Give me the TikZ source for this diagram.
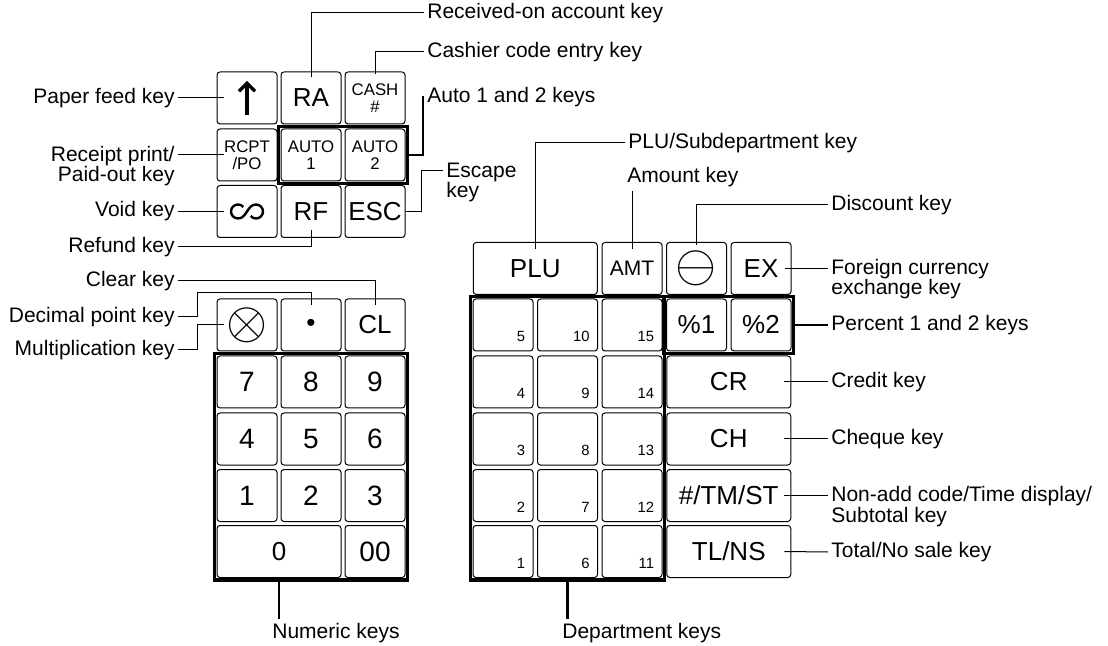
\documentclass[tikz,border=0pt]{standalone}
\usepackage{fontspec}
\setmainfont{Liberation Sans}
\usetikzlibrary{arrows.meta, fit}

\begin{document}
\begin{tikzpicture}[x=0.5pt, y=-0.5pt,
    key/.style={draw, line width=0.5pt, rounded corners=1.5pt, minimum width=30pt, minimum height=26pt, inner sep=0pt, font=\fontsize{13}{13}\selectfont},
    nkey/.style={key, font=\fontsize{14}{14}\selectfont},
    wkey/.style={key, minimum width=62pt},
    skey/.style={key, align=center, font=\fontsize{8.4}{8.6}\selectfont},
    dkey/.style={key, text width=22pt, align=right, inner xsep=4pt, text height=21.5pt, text depth=4.5pt, font=\fontsize{7.4}{8}\selectfont},
    group/.style={draw, line width=1.6pt, inner sep=1pt},
    lbl/.style={inner sep=1.5pt, font=\fontsize{10.5}{10.3}\selectfont},
    conn/.style={line width=0.5pt},
    tconn/.style={line width=1.3pt}]
    \useasboundingbox (0, 0) rectangle (1108, 646);

    % upper left keys
    \node[key] at (247, 98)    (k_feed) {};
    \node[key] at (311, 98)    (k_ra) {RA};
    \node[skey] at (375, 98)   (k_cash) {CASH\\\#};
    \node[skey] at (247, 155)  (k_rcpt) {RCPT\\/PO};
    \node[skey] at (311, 155)  (k_auto1) {AUTO\\1};
    \node[skey] at (375, 155)  (k_auto2) {AUTO\\2};
    \node[key] at (247, 211.5) (k_void) {};
    \node[key] at (311, 211.5) (k_rf) {RF};
    \node[key] at (375, 211.5) (k_esc) {ESC};
    \node[group, fit=(k_auto1)(k_auto2)] (g_auto) {};

    \draw[line width=1.6pt, -{Straight Barb[length=4pt, width=8pt]}] ([yshift=-8.5pt]k_feed.center) -- ([yshift=8.5pt]k_feed.center);
    \draw[line width=1.2pt] ([shift={(-1.82pt,2.25pt)}]k_void.center) arc[start angle=40, end angle=270, radius=3.5pt]
        to[out=0, in=180] ++(9pt,7pt) arc[start angle=90, end angle=-140, radius=3.5pt];

    % numeric keys
    \node[key] at (247, 325)   (k_mul) {\scalebox{2.2}{$\otimes$}};
    \node[key] at (311, 325)   (k_dot) {•};
    \node[key] at (375, 325)   (k_cl) {CL};
    \node[nkey] at (247, 382)  (k_7) {7};
    \node[nkey] at (311, 382)  (k_8) {8};
    \node[nkey] at (375, 382)  (k_9) {9};
    \node[nkey] at (247, 439)  (k_4) {4};
    \node[nkey] at (311, 439)  (k_5) {5};
    \node[nkey] at (375, 439)  (k_6) {6};
    \node[nkey] at (247, 495.5) (k_1) {1};
    \node[nkey] at (311, 495.5) (k_2) {2};
    \node[nkey] at (375, 495.5) (k_3) {3};
    \node[nkey, wkey] at (279, 551.5) (k_0) {0};
    \node[nkey] at (375, 551.5) (k_00) {00};
    \node[group, fit=(k_7)(k_00)] (g_num) {};

    % function keys on the right
    \node[wkey] at (535.25, 268.5) (k_plu) {PLU};
    \node[key, font=\fontsize{10.5}{10.5}\selectfont] at (632, 268.5) (k_amt) {AMT};
    \node[key] at (696.5, 268.5) (k_disc) {\scalebox{2.2}{$\ominus$}};
    \node[key] at (761, 268.5)   (k_ex) {EX};
    \node[key] at (696.5, 325)   (k_p1) {\%1};
    \node[key] at (761, 325)     (k_p2) {\%2};
    \node[wkey] at (728.75, 382)   (k_cr) {CR};
    \node[wkey] at (728.75, 439)   (k_ch) {CH};
    \node[wkey] at (728.75, 495.5) (k_st) {\#/TM/ST};
    \node[wkey] at (728.75, 551.5) (k_tl) {TL/NS};
    \node[group, fit=(k_p1)(k_p2)] (g_pct) {};

    % department keys
    \node[dkey] at (503, 325)     (k_d5) {5};
    \node[dkey] at (567.5, 325)   (k_d10) {10};
    \node[dkey] at (632, 325)     (k_d15) {15};
    \node[dkey] at (503, 382)     (k_d4) {4};
    \node[dkey] at (567.5, 382)   (k_d9) {9};
    \node[dkey] at (632, 382)     (k_d14) {14};
    \node[dkey] at (503, 439)     (k_d3) {3};
    \node[dkey] at (567.5, 439)   (k_d8) {8};
    \node[dkey] at (632, 439)     (k_d13) {13};
    \node[dkey] at (503, 495.5)   (k_d2) {2};
    \node[dkey] at (567.5, 495.5) (k_d7) {7};
    \node[dkey] at (632, 495.5)   (k_d12) {12};
    \node[dkey] at (503, 551.5)   (k_d1) {1};
    \node[dkey] at (567.5, 551.5) (k_d6) {6};
    \node[dkey] at (632, 551.5)   (k_d11) {11};
    \node[group, fit=(k_d5)(k_d11)] (g_dept) {};

    % labels
    \node[lbl, anchor=east] at (178, 98)    (l_feed) {Paper feed key};
    \node[lbl, anchor=base east, align=right] at (178, 182) (l_rcpt) {Receipt print/\\Paid-out key};
    \node[lbl, anchor=east] at (178, 211.5) (l_void) {Void key};
    \node[lbl, anchor=east] at (178, 247)   (l_refund) {Refund key};
    \node[lbl, anchor=east] at (178, 281)   (l_clear) {Clear key};
    \node[lbl, anchor=east] at (178, 317)   (l_dot) {Decimal point key};
    \node[lbl, anchor=east] at (178, 350)   (l_mul) {Multiplication key};
    \node[lbl, anchor=west] at (424, 13)    (l_ra) {Received-on account key};
    \node[lbl, anchor=west] at (424, 52)    (l_cash) {Cashier code entry key};
    \node[lbl, anchor=west] at (424, 97)    (l_auto) {Auto 1 and 2 keys};
    \node[lbl, anchor=base west, align=left] at (443, 198) (l_esc) {Escape\\key};
    \node[lbl, anchor=west] at (625, 143)   (l_plu) {PLU/Subdepartment key};
    \node[lbl, anchor=base west] at (624, 183) (l_amt) {Amount key};
    \node[lbl, anchor=west] at (828, 205)   (l_disc) {Discount key};
    \node[lbl, anchor=base west, align=left] at (828, 295) (l_ex) {Foreign currency\\exchange key};
    \node[lbl, anchor=west] at (828, 325)   (l_pct) {Percent 1 and 2 keys};
    \node[lbl, anchor=west] at (828, 382)   (l_cr) {Credit key};
    \node[lbl, anchor=west] at (828, 439)   (l_ch) {Cheque key};
    \node[lbl, anchor=base west, align=left] at (828, 522) (l_st) {Non-add code/Time display/\\Subtotal key};
    \node[lbl, anchor=west] at (828, 552)   (l_tl) {Total/No sale key};
    \node[lbl, anchor=base west] at (269, 638) (l_num) {Numeric keys};
    \node[lbl, anchor=base west] at (559, 638) (l_dept) {Department keys};

    % leader lines
    \draw[conn] (l_feed.east) -- ([xshift=3.5pt]k_feed.west);
    \draw[conn] (l_rcpt.east |- k_rcpt) -- ([xshift=3.5pt]k_rcpt.west);
    \draw[conn] (l_void.east) -- ([xshift=3.5pt]k_void.west);
    \draw[conn] (l_refund.east) -| ([yshift=4pt]k_rf.south);
    \draw[conn] ([yshift=-3pt]k_ra.north) |- (l_ra.west);
    \draw[conn] ([yshift=-1.5pt]k_cash.north) |- (l_cash.west);
    \draw[tconn] (g_auto.east) -- ++(7pt,0) |- (l_auto.west);
    \draw[conn] (k_esc.east) -- ++(8pt,0) |- ([yshift=-5.5pt]l_esc.north west);
    \draw[conn] (l_clear.east) -| ([yshift=-3.5pt]k_cl.north);
    \draw[conn] (l_dot.east) -- ++(9.5pt,0) |- ([yshift=3pt]k_dot.north) -- ([yshift=-3.5pt]k_dot.north);
    \draw[conn] (l_mul.east) -- ++(9.5pt,0) |- ([xshift=3.5pt]k_mul.west);
    \draw[tconn] (g_num.south -| k_0) -- (l_num.north -| k_0);

    \draw[conn] ([yshift=-3.5pt]k_plu.north) |- (l_plu.west);
    \draw[conn] ([yshift=-3.5pt]k_amt.north) -- (k_amt |- l_amt.south);
    \draw[conn] ([yshift=-1.5pt]k_disc.north) |- (l_disc.west);
    \draw[conn] ([xshift=-3.5pt]k_ex.east) -- (l_ex.west |- k_ex);
    \draw[tconn] (g_pct.east) -- (l_pct.west);
    \draw[conn] ([xshift=-3.5pt]k_cr.east) -- (l_cr.west);
    \draw[conn] ([xshift=-3.5pt]k_ch.east) -- (l_ch.west);
    \draw[conn] ([xshift=-3.5pt]k_st.east) -- (l_st.west |- k_st);
    \draw[conn] ([xshift=-3.5pt]k_tl.east) -- (l_tl.west);
    \draw[tconn] (g_dept.south -| k_d6) -- (l_dept.north -| k_d6);
\end{tikzpicture}
\end{document}
